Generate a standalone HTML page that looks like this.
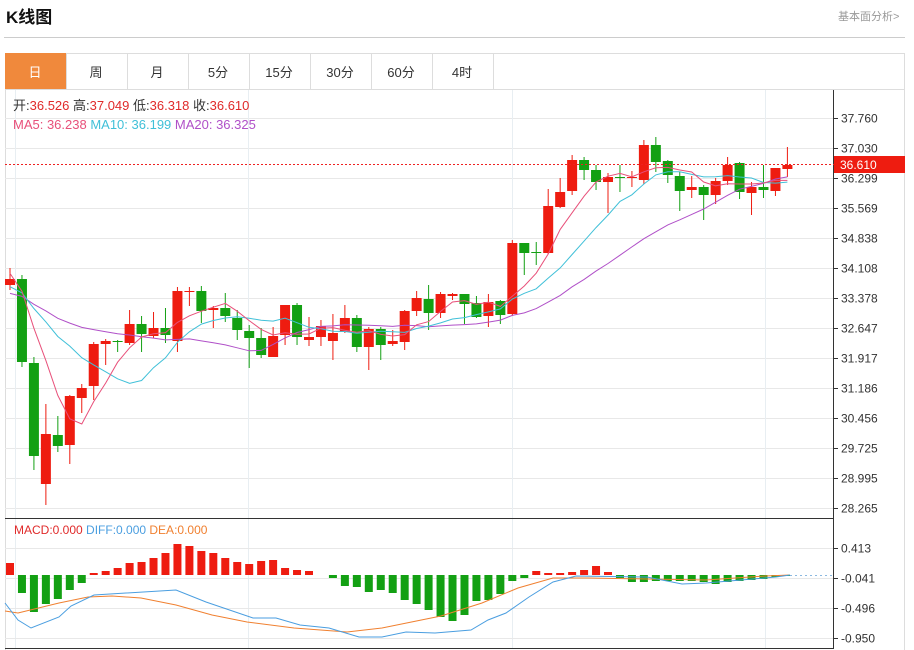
<!DOCTYPE html>
<html><head><meta charset="utf-8"><style>
body{margin:0;background:#fff;width:914px;height:650px;overflow:hidden;font-family:"Liberation Sans","Noto Sans CJK SC",sans-serif;}
</style></head><body>
<svg id="s" width="914" height="650" xmlns="http://www.w3.org/2000/svg" style="position:absolute;left:0;top:0;font-family:'Liberation Sans','Noto Sans CJK SC',sans-serif"></svg>
<script>
var o='';
function L(x1,y1,x2,y2,c,w,d){o+='<line x1="'+x1+'" y1="'+y1+'" x2="'+x2+'" y2="'+y2+'" stroke="'+c+'" stroke-width="'+(w||1)+'"'+(d?' stroke-dasharray="'+d+'"':'')+'/>';}
function T(x,y,t,c,s,extra){o+='<text x="'+x+'" y="'+y+'" fill="'+c+'" font-size="'+s+'" '+(extra||'')+'>'+t+'</text>';}
function R(x,y,w,h,c,st){o+='<rect x="'+x+'" y="'+y+'" width="'+w+'" height="'+h+'" fill="'+c+'"'+(st?' stroke="'+st+'"':'')+'/>';}
T(6,23,'K线图','#111',17,'font-weight="bold"');
T(838,20,'基本面分析&gt;','#999',11);
L(4,37.5,905,37.5,'#ccc');
// tabs
R(5.5,53.5,899,36,'#fff','#ddd');
var tabs=['日','周','月','5分','15分','30分','60分','4时'];
for(var i=0;i<9;i++){var x=5.5+i*61;L(x,53,x,90,'#ddd');}
R(5,53,61,36,'#f0893c');
for(var i=0;i<8;i++){T(35+i*61,77,tabs[i],i==0?'#fff':'#333',13,'text-anchor="middle"');}
L(904.5,53,904.5,650,'#ddd');L(5.5,90,5.5,650,'#ddd');
// grid
var lbl=['37.760','37.030','36.299','35.569','34.838','34.108','33.378','32.647','31.917','31.186','30.456','29.725','28.995','28.265'];
for(var i=0;i<14;i++){var y=118+i*30+.5;L(5,y,834,y,'#e8e8e8');L(834,y,838,y,'#333');T(841,y+4,lbl[i],'#333',12);}
[15,248,512,765].forEach(function(x){L(x+.5,90,x+.5,648,'#e8eef2');});
var ml=['0.413','-0.041','-0.496','-0.950'];
for(var i=0;i<4;i++){var y=548+i*30+.5;L(5,y,834,y,'#e8e8e8');L(834,y,838,y,'#333');T(841,y+4,ml[i],'#333',12);}
L(833.5,90,833.5,648,'#333');L(5,518.5,834,518.5,'#333');L(5,648.5,834,648.5,'#333');
// candles [color, top, bottom, wickTop, wickBot]
var C=[['r',279,285,268,290],['g',279,362,275,367],['g',363,456,357,470],['r',434,484,404,505],['g',435,446,416,452],['r',396,445,395,464],['r',388,398,384,413],['r',344,386,342,400],['r',341,344,339,365],['g',341,342,340,352],['r',324,343,310,345],['g',324,334,316,352],['r',328,336,312,338],['g',328,335,308,343],['r',291,341,287,352],['r',291,292,287,306],['g',291,311,286,323],['r',308,310,306,328],['g',308,316,293,322],['g',318,330,310,340],['g',331,338,325,368],['g',338,355,328,358],['r',336,357,327,357],['r',305,335,305,345],['g',305,337,303,345],['r',337,340,317,346],['r',326,337,320,346],['r',333,341,314,360],['r',318,332,305,333],['g',318,347,315,352],['r',329,347,327,370],['g',329,345,327,360],['r',341,344,330,346],['r',311,342,310,350],['r',298,311,291,316],['g',299,313,285,330],['r',294,313,292,318],['r',294,296,293,300],['g',294,304,294,324],['g',303,317,296,318],['r',302,316,294,327],['g',301,315,300,324],['r',243,314,240,316],['g',243,253,243,275],['g',252,253,242,265],['r',206,253,189,254],['r',192,207,178,208],['r',160,191,155,195],['g',160,170,157,180],['g',170,182,165,190],['r',177,182,173,213],['g',177,178,165,192],['r',177,178,171,187],['r',145,180,140,184],['g',145,162,137,172],['g',161,175,160,183],['g',176,191,172,211],['r',187,190,176,198],['g',187,195,185,220],['r',181,195,178,204],['r',165,181,157,185],['g',163,192,162,199],['r',187,193,182,215],['g',187,190,165,198],['r',168,191,168,196],['r',165,169,147,177]];
var RED='#ee1c10',GRN='#13a013';
var closes=[];for(var i=0;i<19;i++)closes.push(i<15?300:272);
function X(i){return 10+i*11.96;}
C.forEach(function(c,i){var x=X(i),col=c[0]=='r'?RED:GRN;L(x,c[3],x,c[4],col,1);R(x-5,c[1],10,Math.max(1,c[2]-c[1]),col);closes.push(c[0]=='r'?c[1]:c[2]);});
function ma(n,col){var p='';for(var i=0;i<C.length;i++){var s=0;for(var k=0;k<n;k++)s+=closes[19+i-k];p+=(i?'L':'M')+X(i).toFixed(1)+','+(s/n).toFixed(1);}o+='<path d="'+p+'" fill="none" stroke="'+col+'" stroke-width="1"/>';}
ma(20,'#b050c8');ma(10,'#40c0d8');ma(5,'#e8507a');
L(5,164.5,834,164.5,'#ee2020',1,'2,2');
R(834,156,71,17,'#ee1c10');T(840,169,'36.610','#fff',12);
// legend
o+='<text x="13" y="110" font-size="13"><tspan fill="#333">开:</tspan><tspan fill="#e02a2a">36.526 </tspan><tspan fill="#333"> 高:</tspan><tspan fill="#e02a2a">37.049 </tspan><tspan fill="#333"> 低:</tspan><tspan fill="#e02a2a">36.318 </tspan><tspan fill="#333"> 收:</tspan><tspan fill="#e02a2a">36.610</tspan></text>';
o+='<text x="13" y="129" font-size="13"><tspan fill="#e8507a">MA5: 36.238 </tspan><tspan fill="#40c0d8">  MA10: 36.199 </tspan><tspan fill="#b050c8">  MA20: 36.325</tspan></text>';
o+='<text x="14" y="534" font-size="12"><tspan fill="#e02a2a">MACD:0.000 </tspan><tspan fill="#4a9ee0">  DIFF:0.000 </tspan><tspan fill="#f08030">  DEA:0.000</tspan></text>';
// macd bars
var M=[563,593,612,604,599,590,583,573,571,568,563,562,558,553,544,546,551,553,558,562,564,561,560,568,570,571,575,578,586,587,592,590,593,600,604,610,617,621,615,601,600,594,581,578,571,573,573,572,570,566,572,578,582,582,581,581,581,581,582,584,582,581,580,579,577,576];
var Z=575;
M.forEach(function(y,i){var x=X(i);if(Math.abs(y-Z)<1)return;if(y<Z)R(x-4,y,8,Z-y,RED);else R(x-4,Z,8,y-Z,GRN);});
function pl(pts,col){o+='<polyline points="'+pts.map(function(p){return p.join(',')}).join(' ')+'" fill="none" stroke="'+col+'" stroke-width="1"/>';}
pl([[5,611],[18,613],[59,603],[88,597],[112,596],[141,598],[176,605],[212,615],[247,622],[294,628],[347,632],[382,628],[441,616],[482,603],[518,588],[553,578],[588,578],[647,579],[706,580],[765,576],[790,575]],'#f08030');
pl([[5,603],[18,620],[31,628],[59,617],[71,606],[94,595],[176,590],[206,602],[253,618],[276,618],[300,625],[329,628],[359,637],[382,637],[406,632],[435,633],[471,630],[488,620],[506,613],[529,597],[553,582],[576,576],[647,577],[682,584],[706,583],[741,580],[776,577],[790,575]],'#4a9ee0');
L(790,575.5,834,575.5,'#8ab8e0',1,'2,3');
document.getElementById('s').innerHTML=o;
</script>
</body></html>
